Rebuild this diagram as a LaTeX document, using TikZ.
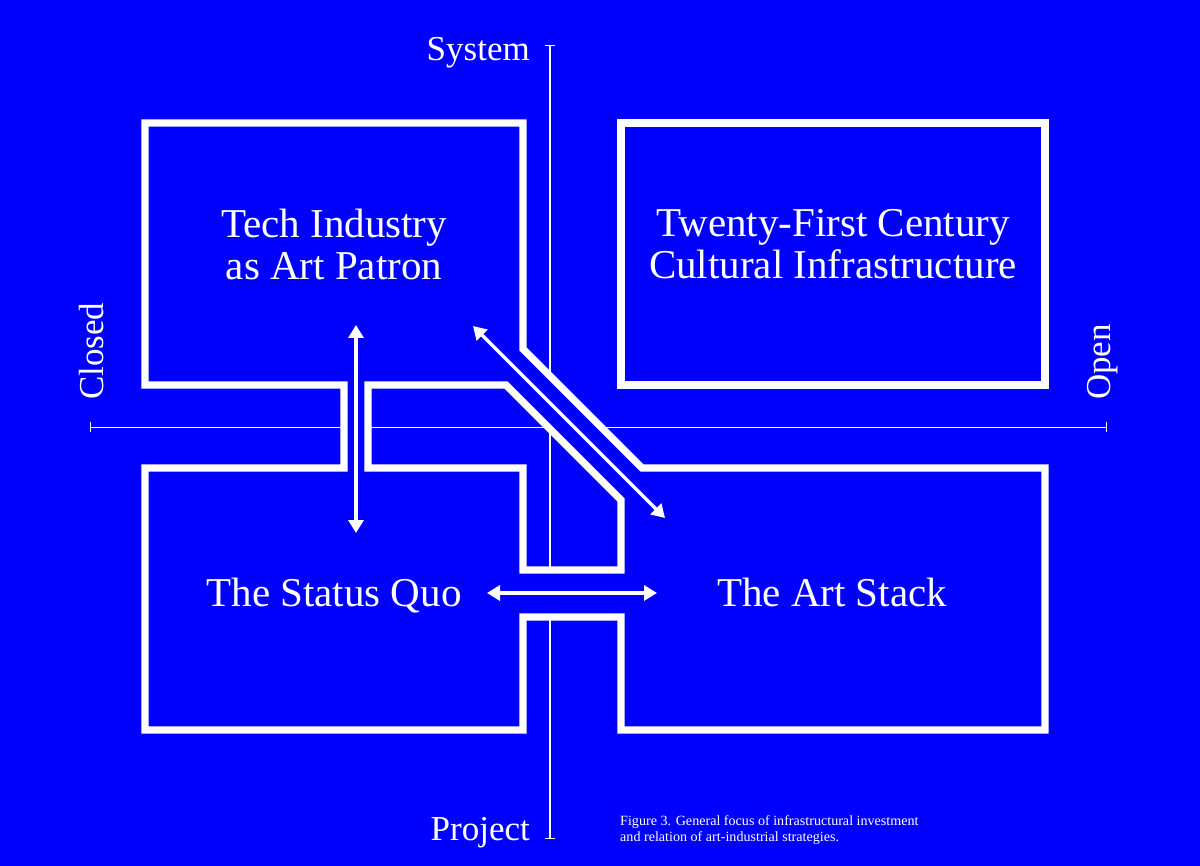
\documentclass[tikz,border=0pt]{standalone}
\usepackage{fontspec}
\setmainfont{Liberation Serif}
\usepackage{tikz}
\usetikzlibrary{arrows.meta}
\definecolor{artblue}{RGB}{0,0,255}
\tikzset{wall/.style = {draw=white, line width=7.3pt}}
\tikzset{gap/.style = {fill=artblue}}
\tikzset{axis/.style = {draw=white, line width=1.4pt,
                        {Bar[width=10pt]}-{Bar[width=10pt]}}}
\tikzset{twoway/.style = {draw=white, line width=3.5pt,
                          {Triangle[length=13pt,width=15pt]}-{Triangle[length=13pt,width=15pt]}}}
\tikzset{quadrant/.style = {text=white, font=\fontsize{41}{42}\selectfont,
                            align=center, inner sep=0pt}}
\tikzset{axislabel/.style = {text=white, font=\fontsize{35}{36}\selectfont,
                             inner sep=0pt}}

\begin{document}
\begin{tikzpicture}[x=1pt, y=-1pt]
      \fill [artblue] (0, 0) rectangle (1200, 866);
      \useasboundingbox (0, 0) rectangle (1200, 866);

      \coordinate (closedend) at (90, 427.5);
      \coordinate (openend) at (1107, 427.5);
      \coordinate (systemend) at (550, 45);
      \coordinate (projectend) at (550, 839);
      \draw [axis] (closedend) -- (openend);
      \draw [axis] (systemend) -- (projectend);

      \fill [gap] (344, 385) rectangle (368, 468);
      \fill [gap] (523, 349) -- (642, 468) -- (621, 500) -- (506, 385) -- cycle;
      \fill [gap] (523, 570) rectangle (621, 617);

      \draw [wall] (145, 123) -- (523, 123) -- (523, 349) -- (642, 468)
            -- (1045, 468) -- (1045, 730) -- (621, 730) -- (621, 617)
            -- (523, 617) -- (523, 730) -- (145, 730) -- (145, 468)
            -- (344, 468) -- (344, 385) -- (145, 385) -- cycle;
      \draw [wall] (368, 385) -- (506, 385) -- (621, 500) -- (621, 570)
            -- (523, 570) -- (523, 468) -- (368, 468) -- cycle;
      \draw [wall] (621, 123) rectangle (1045, 385);

      \node [quadrant, anchor=north] (tech) at (334, 209) {Tech Industry\\as Art Patron};
      \node [quadrant, anchor=north] (infra) at (833, 209) {Twenty-First Century\\Cultural Infrastructure};
      \node [quadrant, anchor=base] (quo) at (334, 606) {The Status Quo};
      \node [quadrant, anchor=base] (stack) at (832, 606) {The Art Stack};

      \node [axislabel, anchor=base east] (system) at (530, 61) {System};
      \node [axislabel, anchor=base east] (project) at (530, 840) {Project};
      \node [axislabel, anchor=base west, rotate=90] (closed) at (103, 400) {Closed};
      \node [axislabel, anchor=base west, rotate=90] (open) at (1110, 400) {Open};

      \node [text=white, font=\fontsize{14.1}{15.5}\selectfont, align=left,
             inner sep=0pt, anchor=north west] (caption) at (620, 815.4)
            {Figure 3. General focus of infrastructural investment\\
             and relation of art-industrial strategies.};

      \coordinate (techup) at (356, 325);
      \coordinate (quodown) at (356, 533);
      \coordinate (techdiag) at (473, 326);
      \coordinate (stackdiag) at (665, 518);
      \coordinate (quoright) at (487, 593);
      \coordinate (stackleft) at (657, 593);
      \draw [twoway] (techup) -- (quodown);
      \draw [twoway] (techdiag) -- (stackdiag);
      \draw [twoway] (quoright) -- (stackleft);
\end{tikzpicture}
\end{document}
